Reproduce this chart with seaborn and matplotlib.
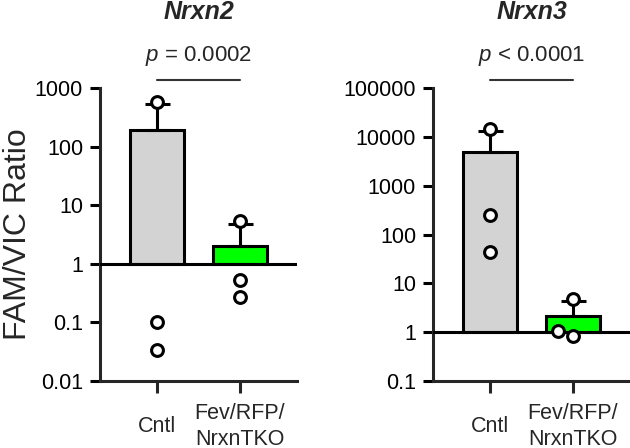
import numpy as np
import pandas as pd
import matplotlib
matplotlib.use('Agg')
import matplotlib.pyplot as plt
import matplotlib.transforms as mtransforms
import seaborn as sns

# valores (razão FAM/VIC por animal)
grupos = ['Cntl', 'Fev/RFP/\nNrxnTKO']
nrxn2_cntl = [575, 0.10, 0.034]
nrxn2_tko = [5.3, 0.53, 0.27]
nrxn3_cntl = [14500, 245, 43]
nrxn3_tko = [4.7, 0.83, 1.05]

titulos = ['Nrxn2', 'Nrxn3']
textos_p = ['$p$ = 0.0002', '$p$ < 0.0001']
ticks_nrxn2 = [0.01, 0.1, 1, 10, 100, 1000]
rotulos_nrxn2 = ['0.01', '0.1', '1', '10', '100', '1000']
ticks_nrxn3 = [0.1, 1, 10, 100, 1000, 10000, 100000]
rotulos_nrxn3 = ['0.1', '1', '10', '100', '1000', '10000', '100000']
cores = ['#D3D3D3', '#00FF00']

sns.set_style('ticks')
plt.rcParams['font.family'] = ['Liberation Sans', 'DejaVu Sans']
plt.rcParams['mathtext.fontset'] = 'custom'
plt.rcParams['mathtext.rm'] = 'Liberation Sans'
plt.rcParams['mathtext.it'] = 'Liberation Sans:italic'

LW = 2.2


def montar_tabela(cntl, tko):
    return pd.DataFrame({
        'grupo': [grupos[0]] * len(cntl) + [grupos[1]] * len(tko),
        'valor': cntl + tko,
    })


def desenhar_painel(ax, dados, titulo, texto_p, ticks, rotulos, ylim):
    sns.barplot(data=dados, x='grupo', y='valor', hue='grupo', order=grupos,
                palette=cores, saturation=1, errorbar=None, width=0.66,
                edgecolor='black', linewidth=LW, legend=False, ax=ax)
    ax.set_yscale('log')

    medias = dados.groupby('grupo', sort=False)['valor'].mean().reindex(grupos)
    desvios = dados.groupby('grupo', sort=False)['valor'].std().reindex(grupos)

    # barras partem de 1 (linha de base), como no GraphPad
    for barra, m in zip(ax.patches, medias.values):
        barra.set_y(1)
        barra.set_height(m - 1)

    ax.errorbar(np.arange(len(grupos)), medias.values,
                yerr=[np.zeros(len(grupos)), desvios.values], fmt='none',
                ecolor='black', elinewidth=LW, capsize=9, capthick=LW, zorder=3)

    ax.axhline(1, color='black', lw=LW, zorder=4)

    sns.swarmplot(data=dados, x='grupo', y='valor', order=grupos, color='white',
                  edgecolor='black', linewidth=LW, size=8.5, ax=ax, zorder=6)

    ax.set_ylim(*ylim)
    ax.set_xlim(-0.69, 1.69)
    ax.set_yticks(ticks, rotulos)
    ax.yaxis.set_minor_locator(matplotlib.ticker.NullLocator())
    ax.set_xlabel('')
    ax.set_ylabel('')
    sns.despine(ax=ax)
    for lado in ['left', 'bottom']:
        ax.spines[lado].set_linewidth(LW)
    ax.tick_params(axis='y', length=7.2, width=LW, labelsize=15.5, pad=5, colors='black')
    ax.tick_params(axis='x', length=8.6, width=LW, labelsize=15.5, pad=24)
    for rot in ax.get_xticklabels():
        rot.set_verticalalignment('center')
        rot.set_linespacing(1.3)

    trans = mtransforms.blended_transform_factory(ax.transData, ax.transAxes)
    ax.plot([0, 1], [1.027, 1.027], color='#333333', lw=1.5, transform=trans, clip_on=False)
    ax.text(0.5, 1.11, texto_p, transform=trans, ha='center', va='center', fontsize=16)
    ax.text(0.5, 1.26, titulo, transform=ax.transAxes, ha='center', va='center',
            fontsize=18, fontweight='bold', fontstyle='italic')


fig = plt.figure(figsize=(6.3, 4.48), dpi=100)
ax1 = fig.add_axes([100 / 630, 1 - 381 / 448, 197 / 630, 293 / 448])
ax2 = fig.add_axes([433 / 630, 1 - 381 / 448, 197 / 630, 293 / 448])

desenhar_painel(ax1, montar_tabela(nrxn2_cntl, nrxn2_tko), titulos[0], textos_p[0],
                ticks_nrxn2, rotulos_nrxn2, (0.01, 1000))
desenhar_painel(ax2, montar_tabela(nrxn3_cntl, nrxn3_tko), titulos[1], textos_p[1],
                ticks_nrxn3, rotulos_nrxn3, (0.1, 100000))

ax1.set_ylabel('FAM/VIC Ratio', fontsize=23)
ax1.yaxis.set_label_coords(-0.34, 0.5)

fig.savefig('out.png', dpi=100)
